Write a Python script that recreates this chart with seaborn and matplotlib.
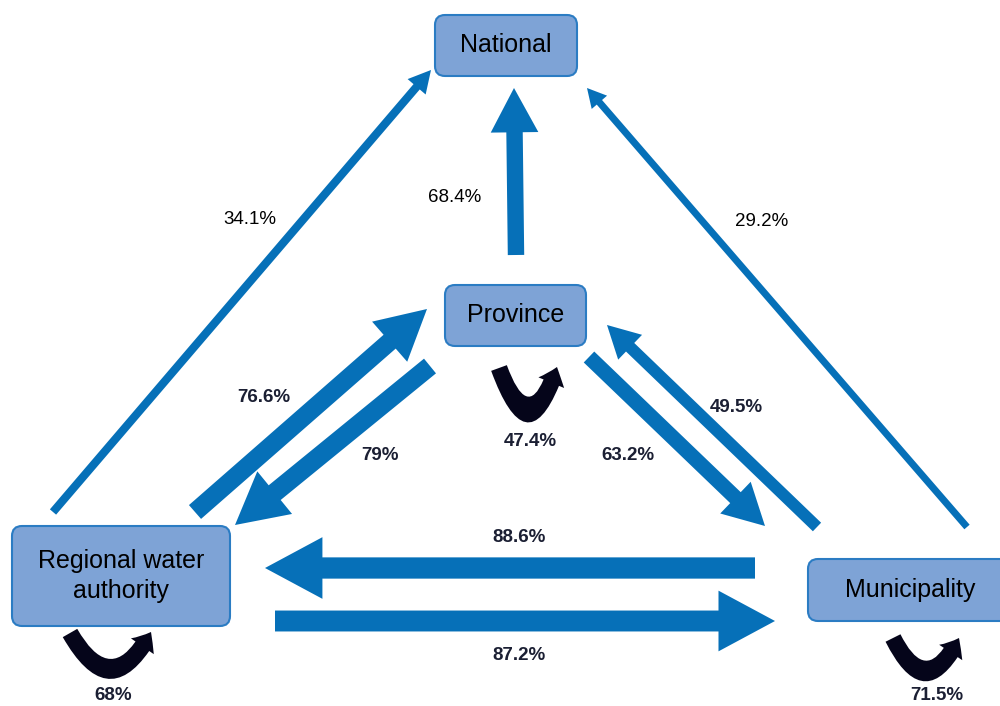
import matplotlib
matplotlib.use("Agg")
import matplotlib.pyplot as plt
from matplotlib.patches import FancyBboxPatch, FancyArrow, FancyArrowPatch
import seaborn as sns

# --- data: flows between governance levels (share of respondents, %) ---
nodes = ["National", "Province", "Regional water authority", "Municipality"]
flow_from = ["Regional water authority", "Province", "Municipality",
             "Regional water authority", "Province", "Province",
             "Municipality", "Municipality", "Regional water authority"]
flow_to = ["National", "National", "National",
           "Province", "Regional water authority", "Municipality",
           "Province", "Regional water authority", "Municipality"]
flow_values = [34.1, 68.4, 29.2, 76.6, 79.0, 63.2, 49.5, 88.6, 87.2]
loop_nodes = ["Province", "Regional water authority", "Municipality"]
loop_values = [47.4, 68.0, 71.5]

# --- layout (pixel space of the 1000x706 canvas) ---
box_xy = {  # x0, y0, x1, y1
    "National": (435, 15, 577, 76),
    "Province": (445, 285, 586, 346),
    "Regional water authority": (12, 526, 230, 626),
    "Municipality": (808, 559, 1013, 621),
}
box_text = {"National": "National", "Province": "Province",
            "Regional water authority": "Regional water\nauthority",
            "Municipality": "Municipality"}
arrow_ends = [  # tail -> tip
    ((53, 512), (431, 70)),
    ((516, 255), (514, 88)),
    ((967, 527), (587, 88)),
    ((195, 512), (427, 309)),
    ((430, 366), (235, 525)),
    ((589, 357), (765, 526)),
    ((817, 527), (607, 325)),
    ((755, 568), (265, 568)),
    ((275, 621), (775, 621)),
]
label_xy = [(250, 220), (455, 197), (762, 221), (264, 398), (380, 455),
            (628, 456), (736, 407), (519, 537), (519, 656)]
label_bold = [False, False, False, True, True, True, True, True, True]
loop_ends = [((499, 368), (557, 367), 1.45), ((70, 633), (151, 632), 0.9),
             ((893, 638), (959, 638), 1.0)]
loop_label_xy = [(530, 441), (113, 696), (937, 695)]

sns.set_theme(style="white")
plt.rcParams["font.family"] = ["Liberation Sans", "DejaVu Sans"]

arrow_blue = "#0670b8"
box_fill = "#7ea3d6"
box_edge = "#2b7cc3"
dark = "#1b1f33"

fig = plt.figure(figsize=(10, 7.06), dpi=100)
ax = fig.add_axes([0, 0, 1, 1])
ax.set_xlim(0, 1000)
ax.set_ylim(706, 0)
ax.axis("off")

# arrows, width scaled by the flow value
for (tail, tip), v, (lx, ly), bold in zip(arrow_ends, flow_values, label_xy, label_bold):
    w = v * 0.24
    ax.add_patch(FancyArrow(tail[0], tail[1], tip[0] - tail[0], tip[1] - tail[1],
                            width=w, head_width=w * 2.9, head_length=w * 2.7,
                            length_includes_head=True, color=arrow_blue, lw=0))
    ax.text(lx, ly, f"{v:g}%", ha="center", va="center", fontsize=13.5,
            fontweight="bold" if bold else "normal",
            color=dark if bold else "black")

# boxes
for name in nodes:
    x0, y0, x1, y1 = box_xy[name]
    ax.add_patch(FancyBboxPatch((x0, y0), x1 - x0, y1 - y0,
                                boxstyle="round,pad=0,rounding_size=10",
                                fc=box_fill, ec=box_edge, lw=1.5, zorder=3))
    ax.text((x0 + x1) / 2, (y0 + y1) / 2, box_text[name], ha="center",
            va="center", fontsize=18, color="black", zorder=4,
            linespacing=1.35)

# self loops
for (a, b, rad), v, (lx, ly) in zip(loop_ends, loop_values, loop_label_xy):
    ax.add_patch(FancyArrowPatch(a, b, connectionstyle=f"arc3,rad={rad}",
                                 arrowstyle="simple,tail_width=1.2,head_width=2.0,head_length=1.2",
                                 mutation_scale=10, color="#05051a",
                                 shrinkA=0, shrinkB=0, lw=0))
    ax.text(lx, ly, f"{v:g}%", ha="center", va="center", fontsize=13.5,
            fontweight="bold", color=dark)

fig.savefig("out.png", dpi=100)
